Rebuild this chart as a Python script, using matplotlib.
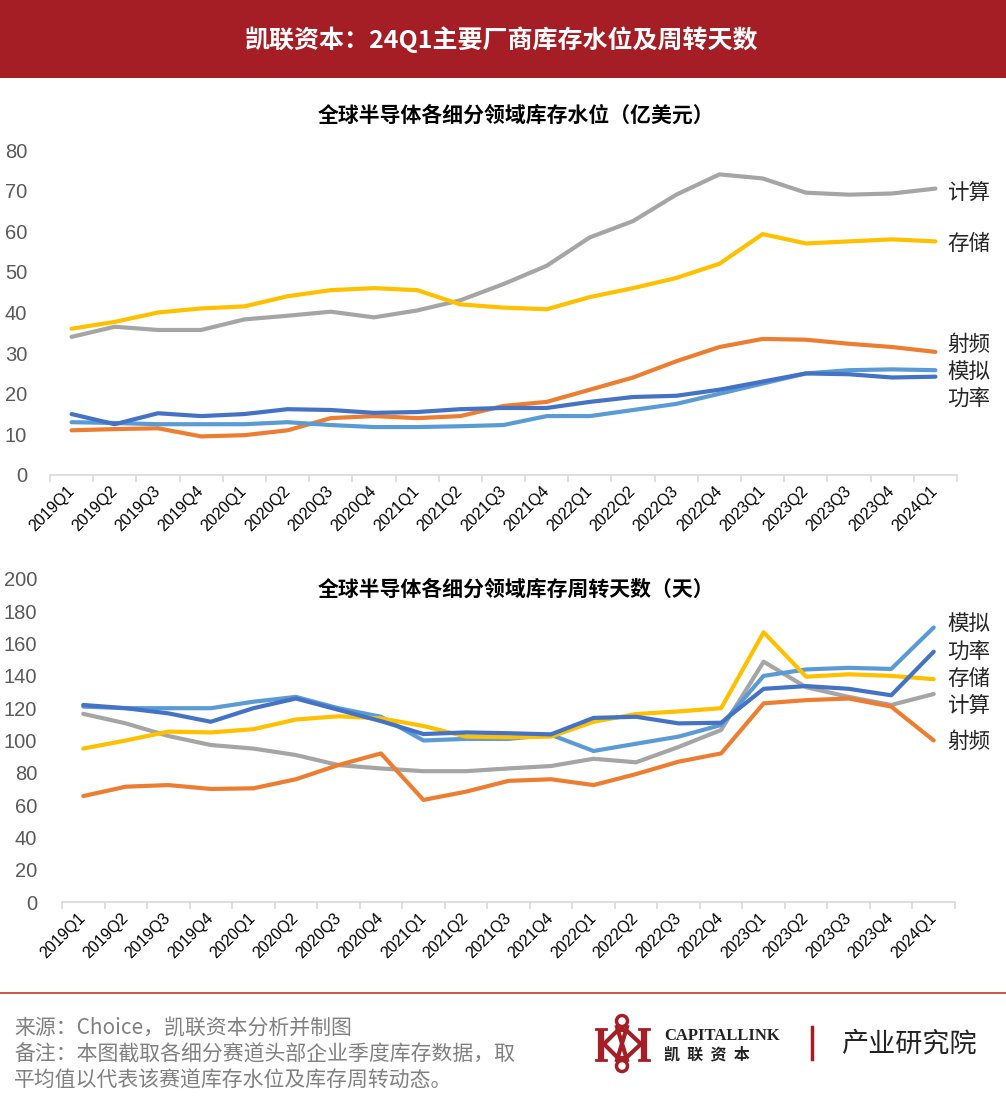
#!/usr/bin/env python3
"""凯联资本 — 24Q1 semis inventory level & turnover days."""
import matplotlib
matplotlib.use('Agg')
import matplotlib.pyplot as plt
from matplotlib.patches import Circle, Rectangle

quarters = ['2019Q1', '2019Q2', '2019Q3', '2019Q4', '2020Q1', '2020Q2', '2020Q3', '2020Q4',
            '2021Q1', '2021Q2', '2021Q3', '2021Q4', '2022Q1', '2022Q2', '2022Q3', '2022Q4',
            '2023Q1', '2023Q2', '2023Q3', '2023Q4', '2024Q1']

# inventory level, 亿美元
inv_compute = [34, 36.5, 35.7, 35.7, 38.3, 39.2, 40.2, 38.8, 40.5, 43, 47, 51.5,
               58.5, 62.5, 69, 74, 73, 69.5, 69, 69.3, 70.5]
inv_memory = [36, 37.7, 40, 41, 41.5, 44, 45.5, 46, 45.5, 42, 41.2, 40.8,
              43.8, 46, 48.5, 52, 59.3, 57, 57.5, 58, 57.5]
inv_rf = [11, 11.3, 11.5, 9.5, 9.8, 11, 14, 14.5, 14, 14.5, 17, 18,
          21, 24, 28, 31.5, 33.5, 33.3, 32.3, 31.5, 30.3]
inv_analog = [13, 12.8, 12.5, 12.5, 12.5, 13, 12.3, 11.8, 11.8, 12, 12.3, 14.5,
              14.5, 16, 17.5, 20, 22.5, 25, 25.8, 26, 25.8]
inv_power = [15, 12.5, 15.2, 14.5, 15, 16.2, 16, 15.3, 15.5, 16.2, 16.5, 16.5,
             18, 19.2, 19.5, 21, 23, 25, 24.8, 24, 24.2]

# turnover days
day_compute = [116.5, 110.6, 102.8, 97.2, 95, 91, 84.8, 82.7, 81, 81, 82.7, 84.2,
               88.7, 86.5, 96, 106.5, 148.8, 133, 127, 122, 128.8]
day_memory = [95, 100, 105.5, 105, 107, 113, 115, 113.7, 109, 102.4, 102, 102.4,
              111.6, 116.4, 118, 120, 167, 139.5, 141, 140, 138]
day_rf = [65.6, 71.4, 72.4, 70, 70.4, 76, 84.8, 92, 63.2, 68.3, 75, 76,
          72.4, 79.2, 86.9, 92, 123, 125, 126, 121, 100]
day_analog = [121, 120, 120, 120, 124, 127, 120, 114.7, 100, 101, 101, 103.5,
              93.5, 98, 102.4, 109.6, 140, 144, 145, 144.3, 170]
day_power = [122, 120, 116.8, 111.6, 120, 126, 119, 112, 104, 105, 104.5, 103.8,
             114, 114.7, 110.6, 111, 132, 133.7, 132, 128, 155]

C_GRAY, C_YELLOW, C_ORANGE = '#A5A5A5', '#FFC000', '#ED7D31'
C_LBLUE, C_DBLUE = '#5B9BD5', '#4472C4'
CJK = ['Noto Sans CJK SC', 'DejaVu Sans']
NUM = ['Liberation Sans', 'Noto Sans CJK SC']

W, H = 1006, 1116
fig = plt.figure(figsize=(W / 100, H / 100), dpi=100)
fig.patch.set_facecolor('white')


def px_axes(left, top, right, bottom):
    return fig.add_axes([left / W, 1 - bottom / H, (right - left) / W, (bottom - top) / H])


def style_axes(ax, ymax, ystep, pad):
    x = range(len(quarters))
    ax.set_xlim(-0.5, len(quarters) - 0.5)
    ax.set_ylim(0, ymax)
    ax.set_yticks(range(0, ymax + 1, ystep))
    for s in ('top', 'right', 'left'):
        ax.spines[s].set_visible(False)
    ax.spines['bottom'].set_color('#D9D9D9')
    ax.spines['bottom'].set_linewidth(1.2)
    ax.set_xticks(list(x))
    ax.set_xticklabels(quarters, rotation=45, ha='right', va='center',
                       rotation_mode='anchor', fontsize=11.5, family=NUM, color='#000000')
    ax.set_xticks([i - 0.5 for i in range(len(quarters) + 1)], minor=True)
    ax.tick_params(axis='x', which='major', length=0, pad=10)
    ax.tick_params(axis='x', which='minor', length=5, color='#D9D9D9', width=1.2)
    ax.tick_params(axis='y', length=0, pad=pad, labelsize=14.5, labelcolor='#595959')
    for lab in ax.get_yticklabels():
        lab.set_family(NUM)
    ax.set_facecolor('none')


# ---- top chart: inventory level
ax1 = px_axes(50, 150, 957, 475)
x = range(len(quarters))
for ys, c in [(inv_compute, C_GRAY), (inv_memory, C_YELLOW), (inv_rf, C_ORANGE),
              (inv_analog, C_LBLUE), (inv_power, C_DBLUE)]:
    ax1.plot(x, ys, color=c, linewidth=3, solid_capstyle='round', solid_joinstyle='round')
style_axes(ax1, 80, 10, 16.5)

# ---- bottom chart: turnover days
ax2 = px_axes(62, 579, 955, 902)
for ys, c in [(day_compute, C_GRAY), (day_rf, C_ORANGE), (day_analog, C_LBLUE),
              (day_memory, C_YELLOW), (day_power, C_DBLUE)]:
    ax2.plot(x, ys, color=c, linewidth=3, solid_capstyle='round', solid_joinstyle='round')
style_axes(ax2, 200, 20, 18)

# ---- overlays in pixel coordinates for header, labels, footer
ov = fig.add_axes([0, 0, 1, 1], zorder=-1)
ov.set_xlim(0, W)
ov.set_ylim(H, 0)
ov.axis('off')
ov2 = fig.add_axes([0, 0, 1, 1], zorder=5)
ov2.set_xlim(0, W)
ov2.set_ylim(H, 0)
ov2.axis('off')
ov2.patch.set_alpha(0)

ov.add_patch(Rectangle((0, 0), W, 78, color='#A51D25', lw=0))
ov2.text(501, 40, '凯联资本：24Q1主要厂商库存水位及周转天数', ha='center', va='center',
         color='white', fontsize=18, fontweight='bold', family=CJK)
ov2.text(516, 115, '全球半导体各细分领域库存水位（亿美元）', ha='center', va='center',
         color='black', fontsize=15, fontweight='bold', family=CJK)
ov2.text(516, 589, '全球半导体各细分领域库存周转天数（天）', ha='center', va='center',
         color='black', fontsize=15, fontweight='bold', family=CJK)

for name, yy in [('计算', 193), ('存储', 244), ('射频', 345), ('模拟', 372), ('功率', 399),
                 ('模拟', 624), ('功率', 652), ('存储', 679), ('计算', 706), ('射频', 742)]:
    ov2.text(947, yy, name, ha='left', va='center', fontsize=15.5, color='#262626', family=CJK)

# footer
ov2.plot([0, W], [993, 993], color='#C0392B', linewidth=1.2)
for txt, yy in [('来源：Choice，凯联资本分析并制图', 1029),
                ('备注：本图截取各细分赛道头部企业季度库存数据，取', 1055),
                ('平均值以代表该赛道库存水位及库存周转动态。', 1081)]:
    ov2.text(14, yy, txt, ha='left', va='center', fontsize=15, color='#808080', family=CJK)

# logo (rough)
RED = '#A51D25'
ov2.plot([601, 601], [1029, 1060], color=RED, linewidth=4.5, solid_capstyle='butt')
ov2.plot([644, 644], [1029, 1060], color=RED, linewidth=4.5, solid_capstyle='butt')
for xx in (601, 644):
    ov2.plot([xx - 5, xx + 5], [1029, 1029], color=RED, linewidth=2)
    ov2.plot([xx - 5, xx + 5], [1060, 1060], color=RED, linewidth=2)
ov2.plot([604, 618, 626, 641], [1044, 1030, 1030, 1044], color=RED, linewidth=3)
ov2.plot([604, 618, 626, 641], [1044, 1058, 1058, 1044], color=RED, linewidth=3)
ov2.plot([617, 627], [1027, 1060], color=RED, linewidth=3)
ov2.plot([627, 617], [1027, 1060], color=RED, linewidth=3)
ov2.add_patch(Circle((622, 1021), 5.5, fill=False, ec=RED, lw=2.5))
ov2.add_patch(Circle((622, 1066), 5.5, fill=False, ec=RED, lw=2.5))
ov2.text(664, 1036, 'CAPITALLINK', ha='left', va='center', fontsize=12, fontweight='bold',
         family='Liberation Serif', color='#222222')
ov2.text(664, 1054, '凯  联  资  本', ha='left', va='center', fontsize=11.5, fontweight='bold',
         family=CJK, color='#222222')
ov2.plot([812, 812], [1027, 1059], color=RED, linewidth=2.5)
ov2.text(841, 1044, '产业研究院', ha='left', va='center', fontsize=19.5, family=CJK, color='#222222')

plt.savefig('out.png', dpi=100)
plt.close()
